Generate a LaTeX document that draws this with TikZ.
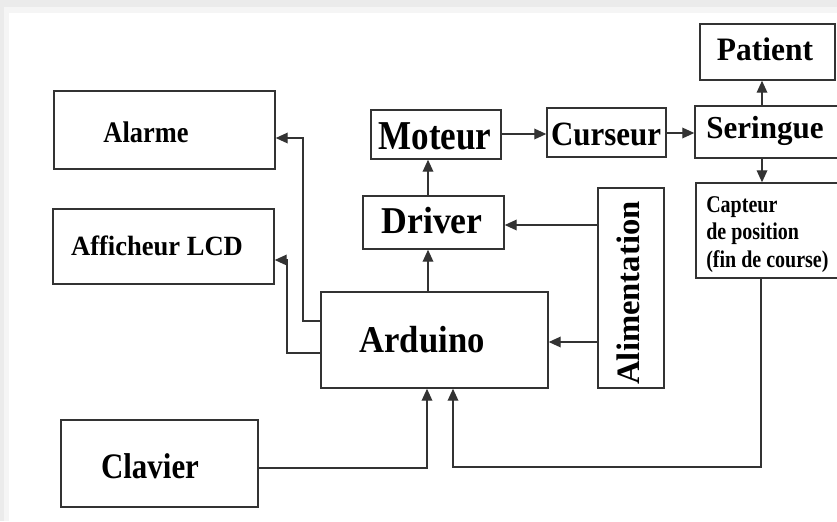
\documentclass[tikz,border=0pt]{standalone}
\usepackage{fontspec}
\setmainfont{Liberation Serif}
\usetikzlibrary{arrows.meta,fit}
\newcommand\lt[3]{\scalebox{1}[#2]{\fontsize{#1}{#1}\selectfont\bfseries #3}}
\begin{document}
\begin{tikzpicture}[x=0.75pt,y=-0.75pt,
  box/.style={draw=black!80, line width=1.1pt, inner sep=0pt, fill=white},
  lbl/.style={inner sep=0pt, anchor=base, text=black},
  wire/.style={draw=black!80, line width=1pt},
  arr/.style={wire, -{Triangle[length=9pt,width=8pt]}}]
\useasboundingbox (0,0) rectangle (837,521);
% background with soft frame shadow
\fill[black!8] (0,0) rectangle (837,521);
\fill[black!4] (4,7) rectangle (837,521);
\fill[white] (9,13) rectangle (837,521);

% boxes
\node[box, fit={(700,24) (835,80)}] (pat) {};
\node[box, fit={(54,91) (275,169)}] (alarme) {};
\node[box, fit={(53,209) (274,284)}] (lcd) {};
\node[box, fit={(371,110) (501,159)}] (mot) {};
\node[box, fit={(547,108) (666,157)}] (cur) {};
\node[box, fit={(695,106) (839,158)}] (ser) {};
\node[box, fit={(696,183) (839,278)}] (cap) {};
\node[box, fit={(363,196) (504,249)}] (drv) {};
\node[box, fit={(598,188) (664,388)}] (alim) {};
\node[box, fit={(321,292) (548,388)}] (ard) {};
\node[box, fit={(61,420) (258,507)}] (clav) {};

% labels
\node[lbl] (pat-t) at (765,60) {\lt{23.6}{1.04}{Patient}};
\node[lbl] (ser-t) at (765,138) {\lt{23.3}{1.03}{Seringue}};
\node[lbl] (cur-t) at (606,145) {\lt{23.2}{1.1}{Curseur}};
\node[lbl] (mot-t) at (435,149) {\lt{26.3}{1.17}{Moteur}};
\node[lbl] (drv-t) at (432,233) {\lt{26.8}{1.06}{Driver}};
\node[lbl] (alarme-t) at (146,142) {\lt{19.8}{1.13}{Alarme}};
\node[lbl] (lcd-t) at (157,255) {\lt{19.9}{1.05}{Afficheur LCD}};
\node[lbl] (ard-t) at (422,352) {\lt{26}{1.09}{Arduino}};
\node[lbl] (clav-t) at (150,478) {\lt{23.2}{1.16}{Clavier}};
\node[lbl, rotate=90] (alim-t) at (639,293) {\lt{24.5}{1.0}{Alimentation}};
\node[inner sep=0pt, anchor=base west] (cap-t) at (706,212)
  {\scalebox{1}[1.2]{\fontsize{15}{17.2}\selectfont\bfseries
   \begin{tabular}[t]{@{}l@{}}Capteur\\de position\\(fin de course)\end{tabular}}};

% helper coordinates
\coordinate (ka) at (303,321);
\coordinate (kb) at (303,138);
\coordinate (kc) at (287,353);
\coordinate (kd) at (287,260);
\coordinate (kv) at (428,0);
\coordinate (km) at (0,134);
\coordinate (ks) at (0,133);
\coordinate (kp) at (762,0);
\coordinate (kh) at (0,225);
\coordinate (kg) at (0,342);
\coordinate (ke) at (427,468);
\coordinate (kf) at (761,467);
\coordinate (kk) at (453,467);

% connectors
\draw[arr] (ard.west |- ka) -- (ka) -- (kb) -- (alarme.east |- kb);
\draw[arr] (ard.west |- kc) -- (kc) -- (kd) -- (lcd.east |- kd);
\draw[arr] (ard.north -| kv) -- (drv.south -| kv);
\draw[arr] (drv.north -| kv) -- (mot.south -| kv);
\draw[arr] (mot.east |- km) -- (cur.west |- km);
\draw[arr] (cur.east |- ks) -- (ser.west |- ks);
\draw[arr] (ser.north -| kp) -- (pat.south -| kp);
\draw[arr] (ser.south -| kp) -- (cap.north -| kp);
\draw[arr] (alim.west |- kh) -- (drv.east |- kh);
\draw[arr] (alim.west |- kg) -- (ard.east |- kg);
\draw[arr] (clav.east |- ke) -- (ke) -- (ard.south -| ke);
\draw[arr] (cap.south -| kf) -- (kf) -- (kk) -- (ard.south -| kk);
\end{tikzpicture}
\end{document}
